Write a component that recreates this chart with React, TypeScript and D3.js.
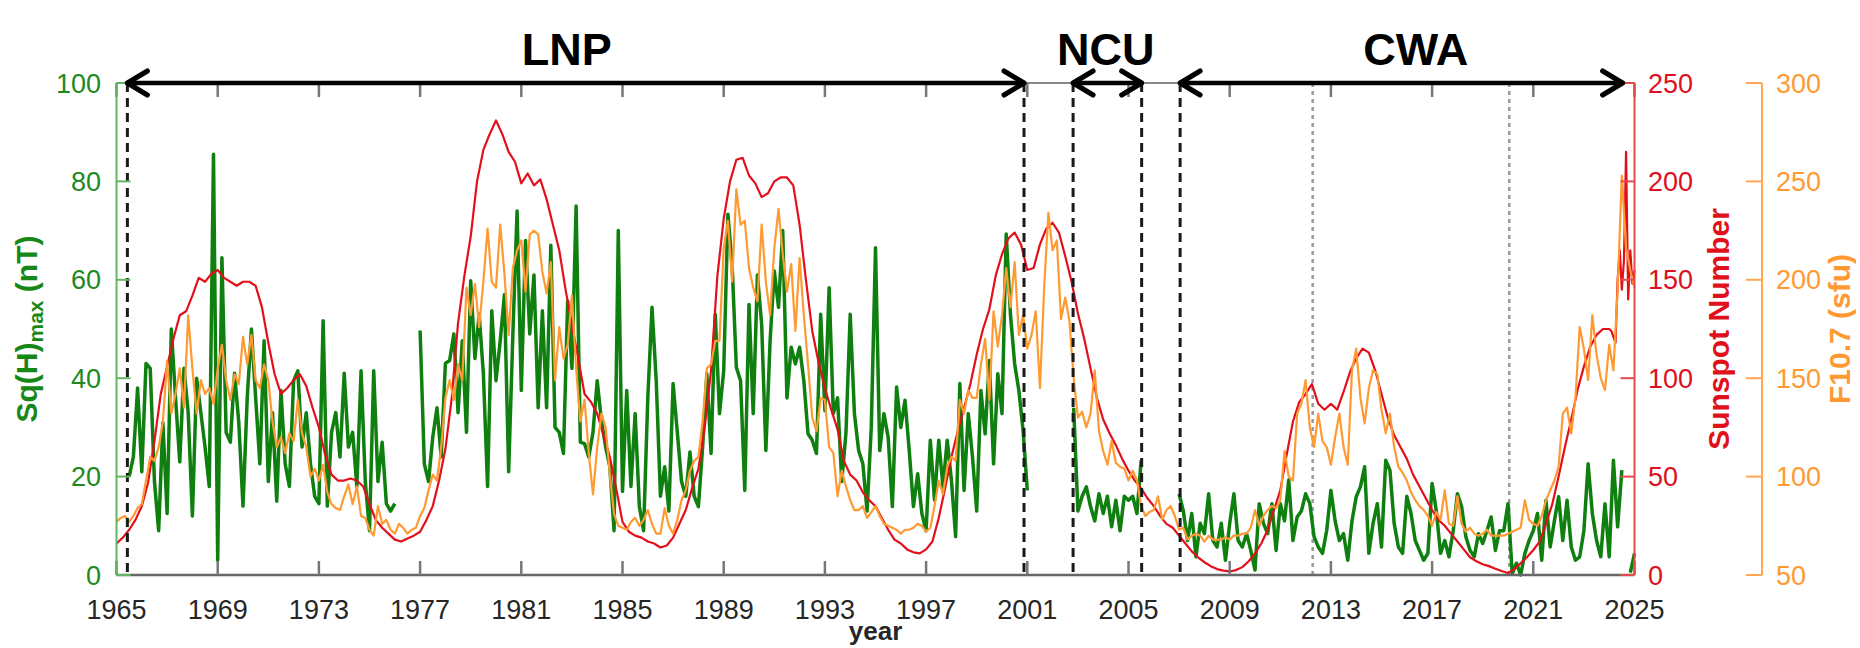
import * as d3 from "d3";

const FONT = "'Liberation Sans', Arial, Helvetica, sans-serif";
const W = 1860;
const H = 648;
const PLOT = { left: 116.5, right: 1634.5, top: 83, bottom: 575 };

// axis ticks
const yearTicks = [1965, 1969, 1973, 1977, 1981, 1985, 1989, 1993, 1997, 2001, 2005, 2009, 2013, 2017, 2021, 2025];
const sqhTicks = [0, 20, 40, 60, 80, 100];
const ssnTicks = [0, 50, 100, 150, 200, 250];
const f107Ticks = [50, 100, 150, 200, 250, 300];

// station periods (years)
const stationNames = ["LNP", "NCU", "CWA"];
const stationFrom = [1965.43, 2002.81, 2007.04];
const stationTo = [2000.87, 2005.52, 2024.53];
const stationLabelAt = [1982.8, 2004.1, 2016.35];
const stationEdges = [1965.43, 2000.87, 2002.81, 2005.52, 2007.04];
const markerYears = [2012.28, 2020.05];

// Sq(H)max, nT, every 2 months from 1965.0 (null = no data)
const sqh = [
  null, null, null, 20, 24, 38,
  21, 43, 42, 19, 9, 31,
  12.5, 50, 36, 23, 42, 33,
  12, 40, 33, 26, 18, 85.5,
  3, 64.5, 29, 27, 41, 31,
  14, 36, 50, 36, 22.6, 47.6,
  19, 33, 15, 37.5, 22.6, 18,
  39.5, 41.5, 26, 33, 22.6, 16,
  14.5, 51.7, 14, 29, 33, 24,
  41, 26, 29, 18, 41.5, 19,
  9, 41.5, 19, 27, 14.5, 13,
  14.5, null, null, null, null, null,
  49.7, 22.6, 19, 28, 34, 24,
  43, 43.6, 49, 33, 47.6, 29,
  59.8, 44, 53, 41, 18, 53.7,
  39.5, 47.6, 57, 21, 49, 74,
  37.5, 68, 49, 61, 34, 53.7,
  34, 67, 30, 29, 24.7, 55.7,
  42, 75, 27, 26.7, 24, 29,
  39.5, 31.4, 26, 22, 9, 70,
  17, 37.5, 18, 32.8, 13.9, 9,
  36, 54.4, 39.5, 16, 22, 13,
  38.9, 29, 19, 16, 25, 16,
  13.9, 26, 40.9, 24.7, 53, 32.8,
  41.5, 73.3, 63, 42.2, 39.5, 17.2,
  55, 32.8, 61, 51, 25.3, 47.6,
  61.8, 54.4, 70, 36, 46.3, 42.9,
  46.3, 39.5, 28.7, 27.4, 24.7, 53,
  33.4, 58.4, 32.8, 36, 19, 29,
  53, 32.8, 25.3, 22.6, 13, 30,
  66.5, 25.3, 32.8, 28, 13.9, 38.2,
  30, 35.5, 25.3, 13.9, 20.6, 12.5,
  9, 27.4, 15.2, 27.4, 17.9, 27.4,
  19.3, 7.8, 38.9, 17.2, 32.8, 24,
  13, 37.5, 28.7, 43.6, 22.6, 40.9,
  32.8, 69.3, 53, 42.9, 37.5, 29.4,
  17.2, null, null, null, null, null,
  null, null, null, null, null, 34,
  13, 16, 17.9, 13.9, 11, 16.5,
  12.5, 16, 9.8, 15.2, 9, 16,
  15.2, 16, 12.5, 23.3, null, null,
  null, null, null, null, null, null,
  16.5, 13, 7, 12.5, 3.7, 10.5,
  8.4, 16.5, 7, 5.7, 10.5, 3,
  10.5, 16.5, 7, 5.7, 8.4, 5,
  1, 14.5, 10.5, 8.4, 14.5, 5,
  14.5, 11, 19.3, 7, 11.8, 13,
  16.5, 14.5, 7.8, 5.7, 4.4, 9,
  17.2, 11, 7, 8.4, 3, 11,
  15.9, 17.9, 22, 4.4, 10.5, 14.5,
  5.7, 23.3, 21.3, 10.5, 5.7, 4.4,
  16, 12.5, 7, 5, 3, 4.4,
  18.6, 13, 4.4, 7, 3.7, 9,
  16.5, 13.9, 7.8, 5, 3.7, 8.4,
  6.4, 9, 11.8, 5, 9, 9,
  14.5, 0.3, 2.4, 0, 4.4, 7,
  9, 12.5, 3, 15.2, 5.7, 11,
  15.9, 7, 15.2, 5.7, 3, 3.7,
  9, 22.6, 12.5, 7, 3.7, 14.5,
  3.7, 23.3, 9.8, 21.3, null, 0.5,
  4.4,
];

// F10.7, sfu, every 2 months from 1965.0
const f107 = [
  77, 79, 80, 77, 80, 84,
  86, 98, 110, 108, 115, 128,
  159, 132, 142, 155, 135, 182,
  155, 132, 149, 142, 145, 137,
  155, 167, 149, 139, 152, 147,
  171, 157, 172, 149, 145, 157,
  149, 128, 115, 120, 112, 122,
  118, 139, 122, 115, 100, 104,
  98, 106, 92, 86, 84, 83,
  90, 96, 86, 95, 80, 79,
  73, 70, 85, 76, 78, 73,
  71, 76, 74, 71, 73, 74,
  80, 84, 93, 101, 98, 115,
  140, 149, 139, 157, 149, 196,
  182, 198, 176, 199, 226, 199,
  196, 228, 203, 172, 206, 215,
  220, 194, 223, 225, 223, 204,
  193, 209, 149, 176, 160, 167,
  192, 155, 128, 139, 112, 91,
  115, 132, 125, 101, 81, 75,
  74, 73, 77, 79, 75, 78,
  83, 76, 71, 71, 84, 75,
  71, 78, 88, 93, 103, 108,
  110, 128, 155, 157, 169, 169,
  216, 230, 199, 246, 228, 230,
  206, 196, 189, 228, 199, 182,
  216, 236, 213, 194, 208, 174,
  211, 182, 157, 130, 123, 140,
  139, 115, 112, 90, 103, 95,
  88, 83, 83, 85, 79, 82,
  85, 80, 76, 75, 74, 73,
  71, 73, 73, 74, 76, 75,
  72, 74, 85, 98, 91, 105,
  110, 108, 139, 132, 144, 140,
  140, 157, 170, 139, 184, 166,
  182, 206, 186, 209, 172, 182,
  165, 172, 184, 145, 196, 234,
  215, 220, 180, 191, 179, 150,
  130, 133, 125, 132, 154, 123,
  113, 106, 118, 107, 105, 104,
  98, 103, 98, 85, 80, 82,
  83, 90, 78, 83, 85, 80,
  73, 74, 68, 70, 71, 70,
  67, 70, 68, 68, 68, 69,
  68, 70, 70, 71, 71, 74,
  83, 75, 80, 83, 85, 84,
  88, 113, 100, 98, 132, 137,
  149, 125, 115, 132, 118, 115,
  106, 120, 132, 115, 106, 154,
  165, 140, 127, 145, 154, 152,
  134, 122, 132, 115, 105, 102,
  98, 92, 88, 85, 83, 80,
  75, 82, 78, 93, 76, 75,
  90, 76, 72, 74, 71, 70,
  71, 73, 70, 70, 70, 70,
  71, 72, 73, 74, 88, 78,
  76, 75, 80, 88, 93, 98,
  105, 132, 135, 122, 140, 176,
  165, 149, 182, 162, 150, 144,
  167, 154, 195, 253, 216, 205,
  196,
];

// smoothed sunspot number, quarterly from 1965.0 to 2023.75
const ssn = [
  16, 19, 23, 28, 35, 47, 68, 92, 106, 120, 132, 134,
  142, 151, 149, 153, 155, 151, 149, 147, 149, 149, 147, 136,
  118, 102, 92, 95, 99, 102, 96, 85, 75, 61, 51, 48,
  48, 49, 48, 45, 36, 28, 24, 21, 18, 17, 18.5, 20,
  22, 28, 35, 48, 64, 90, 128, 152, 172, 200, 216, 224,
  231, 224, 215, 210, 199, 204, 198, 201, 191, 178, 165, 145,
  127, 110, 92, 88, 82, 71, 60, 44, 27, 22, 20, 19,
  17, 16, 14, 15, 19, 26, 33, 44, 54, 75, 104, 152,
  181, 200, 211, 212, 203, 199, 192, 194, 200, 202, 202, 198,
  178, 150, 124, 108, 95, 84, 74, 58, 51, 48, 42, 38,
  35, 29, 23, 18, 16, 13, 11.5, 11, 13, 17, 29, 44,
  60, 73, 85, 97, 112, 125, 135, 152, 163, 171, 174, 168,
  155, 156, 168, 176, 179, 174, 162, 149, 133, 120, 105, 90,
  79, 72, 66, 59, 53, 48, 44, 39, 35, 30, 26, 24,
  20, 16, 12, 9, 6.5, 4.5, 3, 2.2, 1.8, 2.5, 4, 7,
  11, 16, 23, 33, 43, 61, 78, 88, 92, 97, 87, 84,
  87, 84, 93, 103, 110, 115, 113, 104, 92, 80, 71, 65,
  59, 51, 45, 39, 33, 28, 25, 21, 17, 13, 9, 7,
  5.5, 4.5, 3.2, 2, 1, 3, 6, 9, 12.7, 17, 26, 36,
  50, 65, 79, 94, 106, 116, 122, 125,
];
// monthly sunspot number, 2024.0 to 2025.0
const ssnTail = [125, 124, 121, 118, 150, 165, 145, 160, 215, 140, 165, 148, 155];

type Pt = [number, number | null];

const x = d3.scaleLinear().domain([1965, 2025]).range([PLOT.left, PLOT.right]);
const ySq = d3.scaleLinear().domain([0, 100]).range([PLOT.bottom, PLOT.top]);
const ySsn = d3.scaleLinear().domain([0, 250]).range([PLOT.bottom, PLOT.top]);
const yF = d3.scaleLinear().domain([50, 300]).range([PLOT.bottom, PLOT.top]);

const sqhPts: Pt[] = sqh.map((v, i) => [1965 + i / 6, v]);
const f107Pts: Pt[] = f107.map((v, i) => [1965 + i / 6, v]);
const ssnPts: Pt[] = [
  ...ssn.map((v, i) => [1965 + i / 4, v] as Pt),
  ...ssnTail.map((v, i) => [2024 + i / 12, v] as Pt),
];

const mkLine = (y: d3.ScaleLinear<number, number>) =>
  d3
    .line<Pt>()
    .defined((d) => d[1] !== null)
    .x((d) => x(d[0]))
    .y((d) => y(d[1] as number));

const GREEN = "#0f7f0f";
const RED = "#e3101c";
const ORANGE = "#ff9a33";

function Arrow({ x1, x2, y }: { x1: number; x2: number; y: number }) {
  const a = 20;
  const b = 12;
  return (
    <g stroke="#000" fill="none" strokeLinecap="round" strokeLinejoin="round">
      <line x1={x1} x2={x2} y1={y} y2={y} strokeWidth={4.5} />
      <path d={`M${x1 + a},${y - b}L${x1},${y}L${x1 + a},${y + b}`} strokeWidth={5} />
      <path d={`M${x2 - a},${y - b}L${x2},${y}L${x2 - a},${y + b}`} strokeWidth={5} />
    </g>
  );
}

export default function App() {
  const oAxisX = 1762;
  return (
    <div style={{ position: "absolute", left: 0, top: 0 }}>
      <svg width={W} height={H} style={{ display: "block", fontFamily: FONT }}>
        <rect width={W} height={H} fill="#fff" />

        {/* gray dotted markers */}
        {markerYears.map((yr) => (
          <line key={yr} x1={x(yr)} x2={x(yr)} y1={PLOT.top} y2={PLOT.bottom}
            stroke="#9a9a9a" strokeWidth={2.5} strokeDasharray="4 4" />
        ))}

        {/* data */}
        <path d={mkLine(ySq)(sqhPts) ?? ""} fill="none" stroke={GREEN} strokeWidth={3.5} strokeLinejoin="round" />
        <path d={mkLine(ySsn)(ssnPts) ?? ""} fill="none" stroke={RED} strokeWidth={2.2} strokeLinejoin="round" />
        <path d={mkLine(yF)(f107Pts) ?? ""} fill="none" stroke={ORANGE} strokeWidth={2.2} strokeLinejoin="round" />

        {/* station boundaries */}
        {stationEdges.map((yr) => (
          <line key={yr} x1={x(yr)} x2={x(yr)} y1={PLOT.top} y2={PLOT.bottom}
            stroke="#1a1a1a" strokeWidth={3} strokeDasharray="9 6" />
        ))}

        {/* bottom / top axis */}
        <line x1={PLOT.left} x2={PLOT.right} y1={PLOT.bottom} y2={PLOT.bottom} stroke="#666" strokeWidth={2.5} />
        <line x1={PLOT.left} x2={PLOT.right} y1={PLOT.top} y2={PLOT.top} stroke="#888" strokeWidth={2} />
        {yearTicks.map((yr) => (
          <g key={yr}>
            <line x1={x(yr)} x2={x(yr)} y1={PLOT.bottom} y2={PLOT.bottom - 14} stroke="#777" strokeWidth={2.5} />
            <line x1={x(yr)} x2={x(yr)} y1={PLOT.top} y2={PLOT.top + 14} stroke="#777" strokeWidth={2.5} />
            <text x={x(yr)} y={619} textAnchor="middle" fontSize={27} fill="#262626">{yr}</text>
          </g>
        ))}
        <text x={(PLOT.left + PLOT.right) / 2} y={640} textAnchor="middle" fontSize={26} fontWeight="bold" fill="#262626">year</text>

        {/* left axis */}
        <line x1={PLOT.left} x2={PLOT.left} y1={PLOT.top} y2={PLOT.bottom} stroke="#62b862" strokeWidth={2} />
        {sqhTicks.map((t) => (
          <g key={t}>
            <line x1={PLOT.left} x2={PLOT.left + 14} y1={ySq(t)} y2={ySq(t)} stroke="#62b862" strokeWidth={2} />
            <text x={101} y={ySq(t) + 9.5} textAnchor="end" fontSize={27} fill="#1e8a1e">{t}</text>
          </g>
        ))}
        <text transform={`translate(37,${(PLOT.top + PLOT.bottom) / 2}) rotate(-90)`} textAnchor="middle"
          fontSize={30} fontWeight="bold" fill="#178817">
          Sq(H)<tspan fontSize={21} dy={6}>max</tspan><tspan dy={-6}> (nT)</tspan>
        </text>

        {/* right red axis */}
        <line x1={PLOT.right} x2={PLOT.right} y1={PLOT.top} y2={PLOT.bottom} stroke="#e84a4a" strokeWidth={2} />
        {ssnTicks.map((t) => (
          <g key={t}>
            <line x1={PLOT.right - 14} x2={PLOT.right} y1={ySsn(t)} y2={ySsn(t)} stroke="#e84a4a" strokeWidth={2} />
            <text x={1648} y={ySsn(t) + 9.5} fontSize={27} fill="#dc1020">{t}</text>
          </g>
        ))}
        <text transform={`translate(1729,${(PLOT.top + PLOT.bottom) / 2}) rotate(-90)`} textAnchor="middle"
          fontSize={30} fontWeight="bold" fill="#e0101c">Sunspot Number</text>

        {/* orange axis */}
        <line x1={oAxisX} x2={oAxisX} y1={PLOT.top} y2={PLOT.bottom} stroke="#ffa850" strokeWidth={2} />
        {f107Ticks.map((t) => (
          <g key={t}>
            <line x1={oAxisX - 16} x2={oAxisX} y1={yF(t)} y2={yF(t)} stroke="#ffa850" strokeWidth={2} />
            <text x={1776} y={yF(t) + 9.5} fontSize={27} fill={ORANGE}>{t}</text>
          </g>
        ))}
        <text transform={`translate(1850,${(PLOT.top + PLOT.bottom) / 2}) rotate(-90)`} textAnchor="middle"
          fontSize={30} fontWeight="bold" fill={ORANGE}>F10.7 (sfu)</text>

        {/* station arrows and names */}
        {stationNames.map((name, i) => (
          <g key={name}>
            <Arrow x1={x(stationFrom[i])} x2={x(stationTo[i])} y={PLOT.top} />
            <text x={x(stationLabelAt[i])} y={65} textAnchor="middle" fontSize={45} fontWeight="bold" fill="#000">{name}</text>
          </g>
        ))}
      </svg>
    </div>
  );
}
